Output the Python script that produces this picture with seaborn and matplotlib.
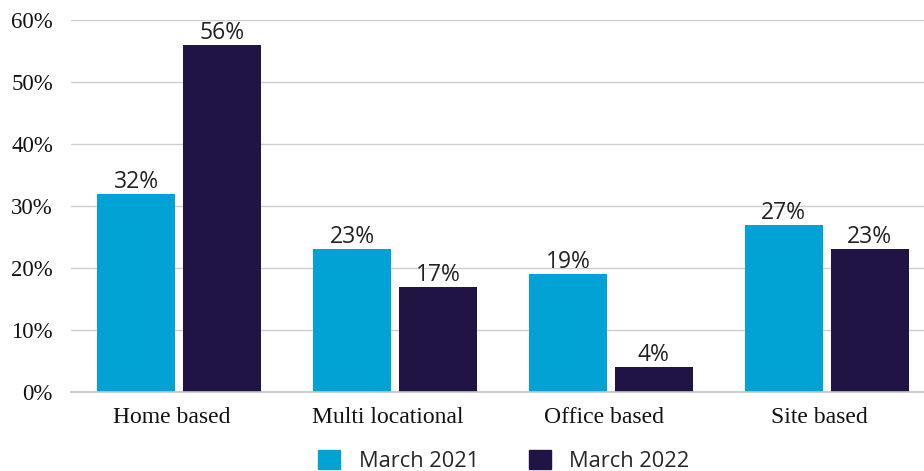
import pandas as pd
import matplotlib.pyplot as plt
import seaborn as sns
import matplotlib.transforms as mtransforms
from matplotlib.ticker import FuncFormatter
from matplotlib.patches import Patch

# data
categories = ["Home based", "Multi locational", "Office based", "Site based"]
march_2021 = [32, 23, 19, 27]
march_2022 = [56, 17, 4, 23]
series_names = ["March 2021", "March 2022"]
colors = ["#00A3D3", "#201445"]

df = pd.DataFrame({
    "category": categories * 2,
    "value": march_2021 + march_2022,
    "period": [series_names[0]] * 4 + [series_names[1]] * 4,
})

sns.set_theme(style="white")
plt.rcParams["font.family"] = ["Liberation Serif", "DejaVu Serif"]

fig = plt.figure(figsize=(9.24, 4.71), dpi=100)
ax = fig.add_axes([71 / 924, 79 / 471, 853 / 924, 372 / 471])

sns.barplot(data=df, x="category", y="value", hue="period",
            palette=colors, width=0.796, gap=0.093,
            saturation=1, legend=False, linewidth=0, ax=ax)

for cont in ax.containers:
    ax.bar_label(cont, fmt="%d%%", padding=0, fontsize=16.5,
                 family=["Open Sans", "DejaVu Sans"], color="#222222")

ax.set_ylim(0, 60)
ax.set_xlim(-0.5, 3.45)
ax.set_yticks(range(0, 61, 10))
ax.yaxis.set_major_formatter(FuncFormatter(lambda v, p: f"{v:.0f}%"))
ax.grid(axis="y", color="#cfcfcf", linewidth=1)
ax.set_axisbelow(True)
ax.tick_params(axis="y", length=0, pad=13, labelsize=16.5, labelcolor="#111111")
ax.tick_params(axis="x", length=0, pad=11, labelsize=17, labelcolor="#111111")
ax.set_xlabel("")
ax.set_ylabel("")
for s in ["top", "right", "left"]:
    ax.spines[s].set_visible(False)
ax.spines["bottom"].set_color("#c4c4c4")
ax.spines["bottom"].set_linewidth(1.2)

# category labels sit a little left of the bar pair centres in the original
shift = mtransforms.ScaledTranslation(-7 / 100, 0, fig.dpi_scale_trans)
for lbl in ax.get_xticklabels():
    lbl.set_transform(lbl.get_transform() + shift)

handles = [Patch(color=c, label=n) for c, n in zip(colors, series_names)]
fig.legend(handles=handles, loc="center", bbox_to_anchor=(504 / 924, 10 / 471),
           ncol=2, frameon=False, handlelength=1.0, handleheight=1.0,
           columnspacing=2.3, handletextpad=0.85, borderpad=0,
           prop={"family": ["Open Sans", "DejaVu Sans"], "size": 15.7})

fig.savefig("out.png", dpi=100)
